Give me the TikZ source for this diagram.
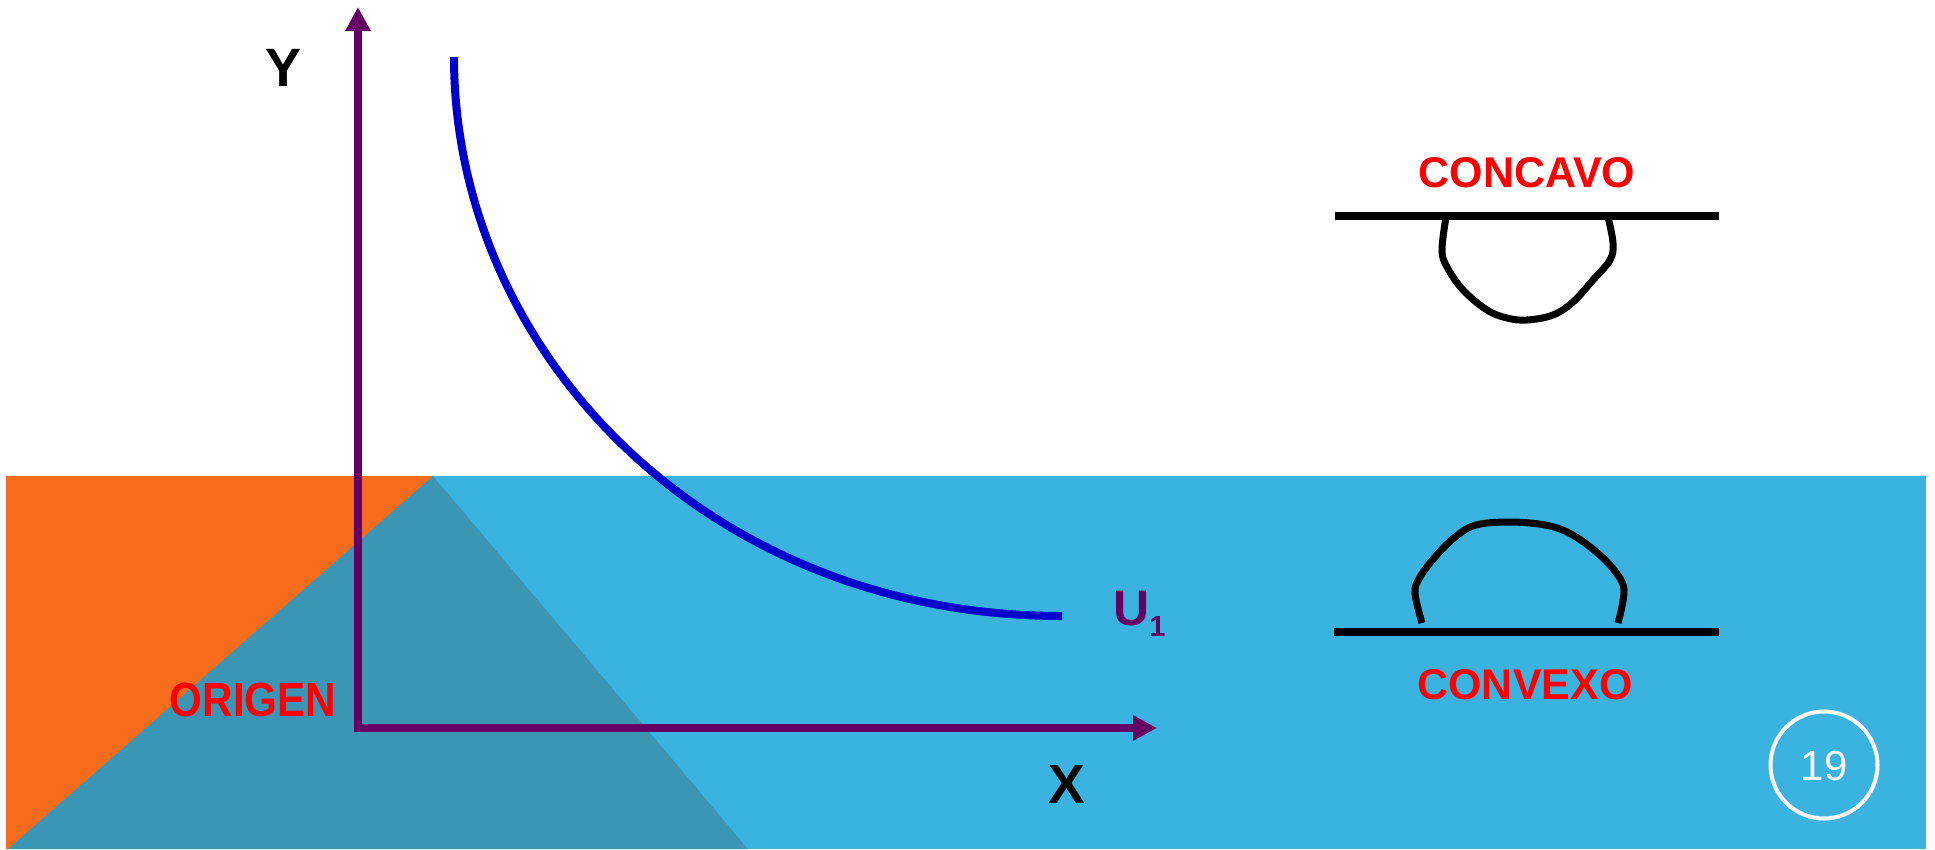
\documentclass[tikz,border=0pt]{standalone}
\usepackage{fontspec}
\setmainfont{Liberation Sans}
\usetikzlibrary{arrows.meta}
\definecolor{orng}{HTML}{F76B1C}
\definecolor{lblue}{HTML}{3BB3E0}
\definecolor{dteal}{HTML}{3A96B4}
\definecolor{purp}{HTML}{660066}
\definecolor{cblue}{HTML}{0000CC}
\begin{document}
\begin{tikzpicture}[x=1pt,y=-1pt,
  axis/.style={draw=purp,line width=7.5pt,-{Triangle[length=24pt,width=24pt]}},
  lens/.style={draw=black,line width=7pt},
  flat/.style={draw=black,line width=8pt},
  lbl/.style={inner sep=0pt,anchor=base,font=\bfseries\fontsize{43}{50}\selectfont},
  redlbl/.style={lbl,text=red}]
\useasboundingbox (0,0) rectangle (1935,849);
% background band
\fill[lblue] (6,476) rectangle (1926,849);
\fill[orng] (6,476) -- (433,476) -- (8,849) -- (6,849) -- cycle;
\fill[dteal] (8,849) -- (433,476) -- (748,849) -- cycle;
% axes
\coordinate (O) at (358,728);
\coordinate (Ytip) at (358,7);
\coordinate (Xtip) at (1157,728);
\draw[axis] ([yshift=-3.75pt]O) -- (Ytip);
\draw[axis] (O) -- (Xtip);
\node[lbl,font=\bfseries\fontsize{54}{60}\selectfont] (ylab) at (284,86) {Y};
\node[lbl,font=\bfseries\fontsize{55}{60}\selectfont] (xlab) at (1067,803) {X};
\node[redlbl] (origen) at (253,716) {\scalebox{0.88}[1]{\fontsize{48}{54}\selectfont ORIGEN}};
% indifference curve
\coordinate (cstart) at (454,57);
\coordinate (cend) at (1062,616);
\draw[cblue,line width=8pt] (cstart) .. controls (454,352) and (707,616) .. (cend);
\node[inner sep=0pt,anchor=base west,text=purp,font=\bfseries] (u1) at (1113,625)
  {\fontsize{50}{56}\selectfont U\raisebox{-11pt}{\fontsize{29}{34}\selectfont 1}};
% concavo
\node[redlbl] (concavo) at (1527,187) {CONCAVO};
\coordinate (ca) at (1335,216);
\coordinate (cb) at (1719,216);
\draw[flat] (ca) -- (cb);
\draw[lens] plot[smooth,tension=0.6] coordinates {(1446,217) (1442,250) (1447,267) (1463,290) (1487,310) (1507,318) (1527,320) (1553,315) (1573,302) (1593,280) (1610,260) (1613,243) (1608,217)};
% convexo
\coordinate (va) at (1334,632);
\coordinate (vb) at (1719,632);
\draw[flat] (va) -- (vb);
\draw[lens] plot[smooth,tension=0.6] coordinates {(1422,623) (1415,593) (1420,577) (1435,557) (1455,537) (1476,525) (1510,522) (1545,525) (1569,533) (1594,550) (1614,570) (1624,590) (1618,623)};
\node[redlbl] (convexo) at (1525,699) {CONVEXO};
% page number
\node[draw=white,line width=4pt,circle,minimum size=107pt,inner sep=0pt] (pg) at (1824,765) {};
\node[inner sep=0pt,anchor=base,text=white,font=\fontsize{42}{48}\selectfont] (pgnum) at (1824,780) {19};
\end{tikzpicture}
\end{document}
